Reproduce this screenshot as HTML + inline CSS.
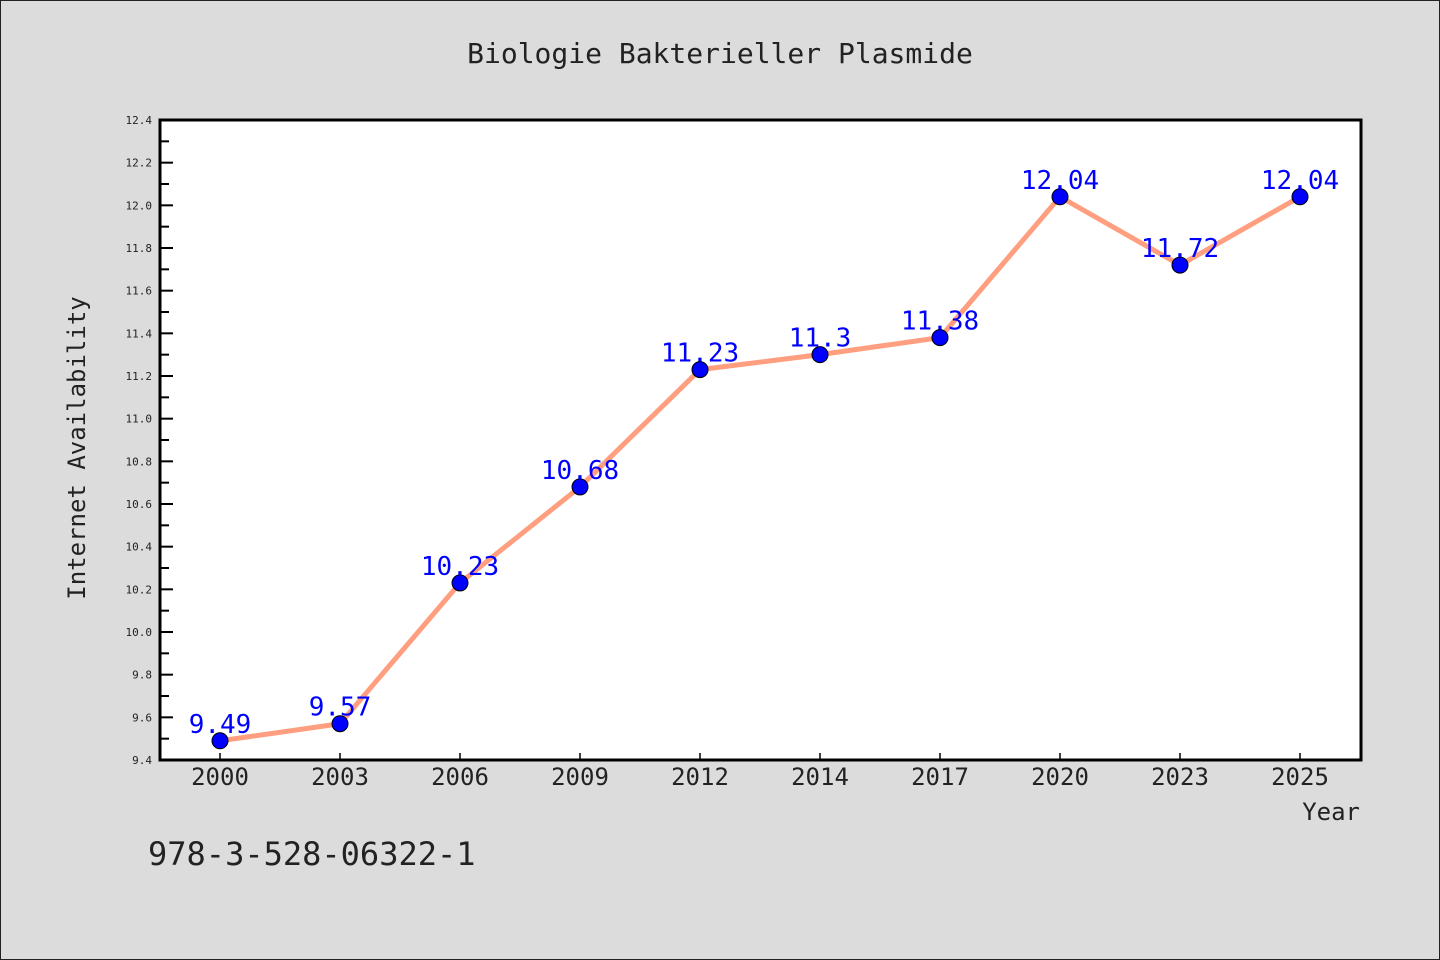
<!DOCTYPE html>
<html><head><meta charset="utf-8"><style>
body{margin:0;background:#dcdcdc}
svg{display:block;font-family:"DejaVu Sans Mono","Liberation Mono",monospace}
</style></head><body>
<svg width="1440" height="960" viewBox="0 0 1440 960">
<rect x="0.5" y="0.5" width="1439" height="959" fill="#dcdcdc" stroke="#222"/>
<text x="720" y="63" text-anchor="middle" font-size="28" fill="#222">Biologie Bakterieller Plasmide</text>
<rect x="160" y="120" width="1201" height="640" fill="#fff"/>
<g id="yaxis"></g><g id="xaxis"></g>
<path id="line" fill="none" stroke="#ff9f7f" stroke-width="5" stroke-linejoin="round"/>
<g id="points"></g><g id="labels"></g>
<rect x="160" y="120" width="1201" height="640" fill="none" stroke="#000" stroke-width="3"/>
<text transform="translate(85,448) rotate(-90)" text-anchor="middle" font-size="24" fill="#222">Internet Availability</text>
<text x="1360" y="820" text-anchor="end" font-size="24" fill="#222">Year</text>
<text x="148" y="865" font-size="32" fill="#222">978-3-528-06322-1</text>
</svg>
<script>
const categories=["2000","2003","2006","2009","2012","2014","2017","2020","2023","2025"];
const values=[9.49,9.57,10.23,10.68,11.23,11.3,11.38,12.04,11.72,12.04];
const valueLabels=["9.49","9.57","10.23","10.68","11.23","11.3","11.38","12.04","11.72","12.04"];
const yTicks=[9.4,9.6,9.8,10.0,10.2,10.4,10.6,10.8,11.0,11.2,11.4,11.6,11.8,12.0,12.2,12.4];
const yMin=9.4,yMax=12.4;
const NS="http://www.w3.org/2000/svg";
const X=i=>220+i*120;
const Y=v=>760-(v-yMin)/(yMax-yMin)*640;
function mk(t,a,p){const e=document.createElementNS(NS,t);for(const k in a)e.setAttribute(k,a[k]);p.appendChild(e);return e;}
const ya=document.getElementById('yaxis');
yTicks.forEach(v=>{
 const y=Y(v);
 const t=mk('text',{x:152,y:y+4,'text-anchor':'end','font-size':11,fill:'#222'},ya);
 t.textContent=v.toFixed(1);
 
 
 const l=mk('line',{x1:160,x2:173,y1:y,y2:y,stroke:'#000','stroke-width':2},ya);
 
 
 if(v<yMax-0.01){const ym=Y(v+0.1);
  const m=mk('line',{x1:160,x2:169,y1:ym,y2:ym,stroke:'#000','stroke-width':2},ya);
  
  }
});
const xa=document.getElementById('xaxis');
categories.forEach((c,i)=>{
 const l=mk('line',{x1:X(i),x2:X(i),y1:760,y2:753,stroke:'#000','stroke-width':1.5},xa);
 
 
 const t=mk('text',{x:X(i),y:785,'text-anchor':'middle','font-size':24,fill:'#222'},xa);
 t.textContent=c;
 
 
});
document.getElementById('line').setAttribute('d',values.map((v,i)=>(i?'L':'M')+X(i)+','+Y(v)).join(''));
const pg=document.getElementById('points'),lg=document.getElementById('labels');
values.forEach((v,i)=>{
 const c=mk('circle',{cx:X(i),cy:Y(v),r:8,fill:'#0000ff',stroke:'#000','stroke-width':1},pg);
 
 
 const t=mk('text',{x:X(i),y:Y(v)-8,'text-anchor':'middle','font-size':26,fill:'#0000ff'},lg);
 t.textContent=valueLabels[i];
 
 
});
</script>
</body></html>
